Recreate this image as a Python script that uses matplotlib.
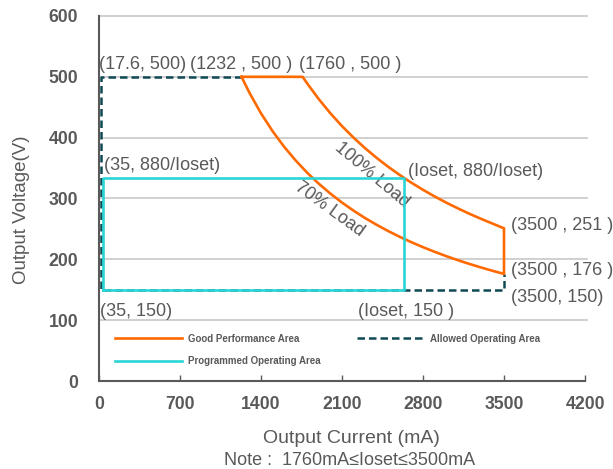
import matplotlib
matplotlib.use("Agg")
import matplotlib.pyplot as plt
from matplotlib import font_manager

names = {f.name for f in font_manager.fontManager.ttflist}
BASE = "Liberation Sans" if "Liberation Sans" in names else "DejaVu Sans"
NARROW = "Liberation Sans Narrow" if "Liberation Sans Narrow" in names else BASE

GRAY = "#595959"
ORANGE = "#FF6A00"
CYAN = "#2AD5D5"
DARK = "#0E4954"

# ---- data ----
x_ticks = [0, 700, 1400, 2100, 2800, 3500, 4200]
y_ticks = [0, 100, 200, 300, 400, 500, 600]

# 70% load curve (mA, V)
load70_i = [1232, 1300, 1400, 1500, 1600, 1700, 1800, 1900, 2000, 2100, 2200, 2300,
            2400, 2500, 2600, 2700, 2800, 2900, 3000, 3100, 3200, 3300, 3400, 3500]
load70_v = [500, 473.8, 440, 410.7, 385, 362.4, 342.2, 324.2, 308, 293.3, 280, 267.8,
            256.7, 246.4, 236.9, 228.1, 220, 212.4, 205.3, 198.7, 192.5, 186.7, 181.2, 176]
# 100% load curve (mA, V), from 3500 back to 1760
load100_i = [3500, 3400, 3300, 3200, 3100, 3000, 2900, 2800, 2700, 2600, 2500, 2400,
             2300, 2200, 2100, 2000, 1900, 1800, 1760]
load100_v = [251, 258.8, 266.7, 275, 283.9, 293.3, 303.4, 314.3, 325.9, 338.5, 352, 366.7,
             382.6, 400, 419, 440, 463.2, 488.9, 500]

# allowed operating area (dashed)
allowed_i = [1232, 17.6, 17.6, 3500, 3500]
allowed_v = [500, 500, 150, 150, 176]

# programmed operating area (Ioset = 2640 example)
prog_i = [35, 2640, 2640, 35, 35]
prog_v = [150, 150, 333.3, 333.3, 150]

annotations = [
    ("(17.6, 500)", 4, 521),
    ("(1232 , 500 )", 786, 521),
    ("(1760 , 500 )", 1728, 521),
    ("(35, 880/Ioset)", 43, 355),
    ("(Ioset, 880/Ioset)", 2670, 344),
    ("(3500 , 251 )", 3560, 255),
    ("(3500 , 176 )", 3560, 181),
    ("(3500, 150)", 3560, 138),
    ("(35, 150)", 9, 114),
    ("(Ioset, 150 )", 2238, 114),
]

fig = plt.figure(figsize=(6.13, 4.69), dpi=100)
ax = fig.add_axes([99 / 613, 1 - 381 / 469, 486 / 613, 365 / 469])
ax.set_xlim(0, 4200)
ax.set_ylim(0, 600)

for yv in y_ticks[1:]:
    ax.plot([0, 4220], [yv, yv], color="#C8C8C8", lw=1.2, zorder=1, clip_on=False)

# good performance area
good_i = load70_i + load100_i + [1232]
good_v = load70_v + load100_v + [500]
ax.plot(allowed_i, allowed_v, color=DARK, lw=1.8, ls=(0, (3, 1.6)), zorder=3,
        label="Allowed Operating Area")
ax.plot(good_i, good_v, color=ORANGE, lw=1.9, zorder=4, label="Good Performance Area",
        solid_joinstyle="round")
ax.plot(prog_i, prog_v, color=CYAN, lw=1.9, zorder=5, label="Programmed Operating Area")

for txt, xi, yi in annotations:
    ax.text(xi, yi, txt, fontsize=13, color=GRAY, ha="left", va="center",
            family=BASE, zorder=6)

ax.text(2360, 338, "100% Load", rotation=-40, fontsize=13, color=GRAY,
        ha="center", va="center", family=BASE, rotation_mode="anchor")
ax.text(1990, 283, "70% Load", rotation=-36, fontsize=13, color=GRAY,
        ha="center", va="center", family=BASE, rotation_mode="anchor")

for s in ["top", "right"]:
    ax.spines[s].set_visible(False)
for s in ["left", "bottom"]:
    ax.spines[s].set_color(GRAY)
    ax.spines[s].set_linewidth(1.5)

ax.set_xticks(x_ticks)
ax.set_yticks(y_ticks)
ax.set_xticklabels([str(v) for v in x_ticks])
ax.set_yticklabels([str(v) for v in y_ticks])
ax.tick_params(axis="x", direction="in", length=4, width=1, color=GRAY, pad=11,
               labelsize=12.7, labelcolor=GRAY)
ax.tick_params(axis="y", length=0, pad=15, labelsize=12.7, labelcolor=GRAY)
for lab in ax.get_xticklabels() + ax.get_yticklabels():
    lab.set_fontweight("bold")
    lab.set_family(BASE)

ax.set_xlabel("Output Current (mA)", fontsize=14, color=GRAY, family=BASE)
ax.xaxis.set_label_coords((351 - 99) / 486, -(438 - 381) / 365)
ax.xaxis.label.set_va("center")
ax.set_ylabel("Output Voltage(V)", fontsize=13.5, color=GRAY, family=BASE)
ax.yaxis.set_label_coords(-(99 - 22) / 486, (381 - 210) / 365)
ax.yaxis.label.set_va("center")
fig.text(350 / 613, 1 - 460 / 469, "Note :  1760mA\u2264Ioset\u22643500mA",
         fontsize=13, color=GRAY, family=BASE, ha="center", va="center")

h, l = ax.get_legend_handles_labels()
order = [1, 2, 0]
leg = ax.legend([h[i] for i in order], [l[i] for i in order], ncol=2, frameon=False,
                loc="upper left", bbox_to_anchor=(0.025, 0.14), borderaxespad=0,
                handlelength=6.9, handletextpad=0.62, columnspacing=3.7,
                labelspacing=1.3,
                prop={"family": NARROW, "weight": "bold", "size": 7})
for t in leg.get_texts():
    t.set_color(GRAY)

fig.savefig("out.png", dpi=100)
